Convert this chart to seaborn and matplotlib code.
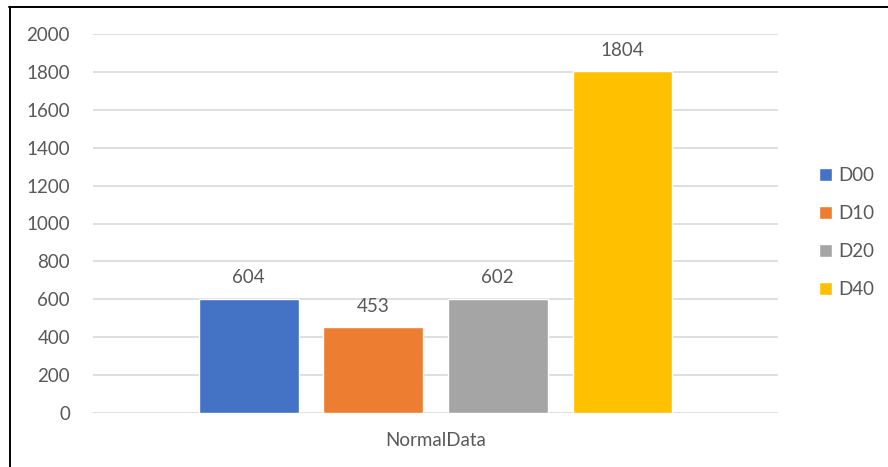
import matplotlib
matplotlib.use("Agg")
import matplotlib.pyplot as plt
from matplotlib.lines import Line2D
import seaborn as sns
import pandas as pd

categories = ["NormalData"]
series = ["D00", "D10", "D20", "D40"]
values = [604, 453, 602, 1804]
colors = ["#4472C4", "#ED7D31", "#A5A5A5", "#FFC000"]
y_ticks = [0, 200, 400, 600, 800, 1000, 1200, 1400, 1600, 1800, 2000]

df = pd.DataFrame({
    "category": categories * len(series),
    "series": series,
    "value": values,
})

sns.set_theme(style="white")
plt.rcParams["font.family"] = ["Lato", "DejaVu Sans"]
text_color = "#595959"
fs = 13.5

W, H = 888, 467
fig = plt.figure(figsize=(W / 100, H / 100), dpi=100)
ax = fig.add_axes([93 / W, 1 - 413 / H, (778 - 93) / W, (413 - 34) / H])

sns.barplot(data=df, x="category", y="value", hue="series",
            palette=colors, hue_order=series, gap=0.2, width=0.8,
            saturation=1, ax=ax, legend=True)

ax.set_xlim(-0.55, 0.55)
ax.set_ylim(0, 2000)
ax.set_yticks(y_ticks)
ax.set_yticklabels([str(t) for t in y_ticks])
ax.yaxis.grid(True, color="#D9D9D9", linewidth=1.2)
ax.set_axisbelow(True)
for s in ax.spines.values():
    s.set_visible(False)
ax.tick_params(axis="both", length=0, labelsize=fs, labelcolor=text_color)
ax.tick_params(axis="y", pad=16.5)
ax.tick_params(axis="x", pad=14)
ax.set_xlabel("")
ax.set_ylabel("")

for cont in ax.containers:
    ax.bar_label(cont, fmt="%d", padding=9, fontsize=fs, color=text_color)

handles, labels = ax.get_legend_handles_labels()
ax.legend(handles, labels, loc="center left",
          bbox_to_anchor=((819 - 93) / (778 - 93), (413 - 232.5) / (413 - 34)),
          frameon=False, fontsize=fs, labelcolor=text_color,
          handlelength=0.7, handleheight=0.7, handletextpad=0.3,
          labelspacing=1.12, borderaxespad=0, borderpad=0)

# chart frame along the left and top
fig.add_artist(Line2D([9.5 / W, 9.5 / W], [0, 1 - 7 / H], color="black", linewidth=1.4,
                      transform=fig.transFigure))
fig.add_artist(Line2D([9 / W, 1], [1 - 7 / H, 1 - 7 / H], color="black", linewidth=1.4,
                      transform=fig.transFigure))

fig.savefig("out.png", dpi=100)
